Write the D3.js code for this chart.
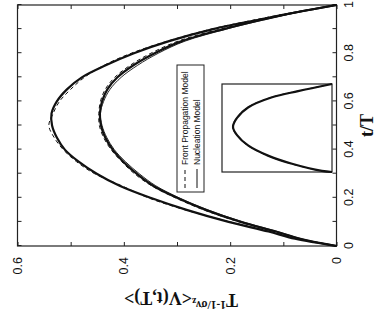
<!DOCTYPE html>
<html>
<head>
<meta charset="utf-8">
<script src="https://cdn.jsdelivr.net/npm/d3@7"></script>
<style>
  body { margin: 0; background: #fff; }
  svg { display: block; }
  .tick text { font-family: Arial, "Liberation Sans", sans-serif; }
</style>
</head>
<body>
<svg id="chart" width="379" height="321"></svg>
<script>
// Reduced time grid t/T shared by the main curves
const tGrid = [0, 0.03, 0.06, 0.1, 0.15, 0.2, 0.25, 0.3, 0.35, 0.4, 0.45, 0.5,
               0.55, 0.6, 0.65, 0.7, 0.75, 0.8, 0.85, 0.9, 0.94, 0.97, 1];

// Outer pair of curves
const outerNucleation = [0, 0.078, 0.128, 0.203, 0.282, 0.35, 0.408, 0.451, 0.485, 0.511, 0.526, 0.535,
                         0.536, 0.526, 0.507, 0.479, 0.434, 0.381, 0.315, 0.232, 0.145, 0.075, 0];
const outerFront =      [0, 0.074, 0.125, 0.200, 0.285, 0.354, 0.404, 0.455, 0.489, 0.514, 0.531, 0.541,
                         0.533, 0.521, 0.500, 0.474, 0.437, 0.386, 0.318, 0.236, 0.150, 0.079, 0];

// Inner group of curves
const innerNucleation = [0, 0.068, 0.114, 0.180, 0.246, 0.300, 0.345, 0.376, 0.401, 0.421, 0.435, 0.443,
                         0.445, 0.441, 0.431, 0.412, 0.382, 0.342, 0.291, 0.212, 0.137, 0.075, 0];
const innerNucleationB = [0, 0.066, 0.111, 0.176, 0.242, 0.296, 0.340, 0.371, 0.397, 0.418, 0.432, 0.441,
                          0.444, 0.438, 0.426, 0.405, 0.374, 0.335, 0.285, 0.207, 0.134, 0.072, 0];
const innerFront =      [0, 0.070, 0.116, 0.183, 0.250, 0.303, 0.348, 0.380, 0.404, 0.424, 0.438, 0.446,
                         0.447, 0.444, 0.435, 0.417, 0.388, 0.349, 0.298, 0.219, 0.142, 0.078, 0];

// Inset: rescaled curves collapsing onto one shape
const insetT = [0, 0.012, 0.093, 0.186, 0.302, 0.419, 0.512, 0.616, 0.733, 0.849, 0.919, 1];
const insetNucleation = [0, 0.055, 0.218, 0.349, 0.458, 0.518, 0.540, 0.518, 0.458, 0.327, 0.185, 0];
const insetFront =      [0, 0.058, 0.222, 0.352, 0.461, 0.521, 0.543, 0.521, 0.461, 0.330, 0.188, 0];

// Axis ticks and labels
const tTicks = [0, 0.1, 0.2, 0.3, 0.4, 0.5, 0.6, 0.7, 0.8, 0.9, 1];
const vTicks = [0, 0.1, 0.2, 0.3, 0.4, 0.5, 0.6];
const legendLabels = ["Front Propagation Model", "Nucleation Model"];

const svg = d3.select("#chart");
// The whole figure is laid out upright (321 wide, 379 tall) and turned a quarter-turn.
const g = svg.append("g").attr("transform", "translate(0,321) rotate(-90)");

const x = d3.scaleLinear().domain([0, 1]).range([75, 316]);
const y = d3.scaleLinear().domain([0, 0.6]).range([336.5, 17.5]);

const fmt = d => (Math.round(d * 10) % 2 === 0) ? (d === 0 ? "0" : (d === 1 ? "1" : d3.format(".1f")(d))) : "";

// Axes with inward ticks on all four sides
g.append("g").attr("transform", `translate(0,${y(0)})`)
  .call(d3.axisBottom(x).tickValues(tTicks).tickSizeInner(-4).tickSizeOuter(0).tickPadding(8).tickFormat(fmt));
g.append("g").attr("transform", `translate(${x(0)},0)`)
  .call(d3.axisLeft(y).tickValues(vTicks).tickSizeInner(-4).tickSizeOuter(0).tickPadding(11).tickFormat(fmt));
g.append("g").attr("transform", `translate(0,${y(0.6)})`)
  .call(d3.axisTop(x).tickValues(tTicks).tickSizeInner(-4).tickSizeOuter(0).tickFormat(""));
g.append("g").attr("transform", `translate(${x(1)},0)`)
  .call(d3.axisRight(y).tickValues(vTicks).tickSizeInner(-4).tickSizeOuter(0).tickFormat(""));
g.selectAll(".domain").remove();
g.selectAll(".tick line").attr("stroke", "#222");
g.selectAll(".tick text").attr("font-size", 12.5).attr("fill", "#111");

// Frame
g.append("rect")
  .attr("x", x(0)).attr("y", y(0.6))
  .attr("width", x(1) - x(0)).attr("height", y(0) - y(0.6))
  .attr("fill", "none").attr("stroke", "#222").attr("stroke-width", 1.2);

const line = (xs, ys) => d3.line().x(d => xs(d[0])).y(d => ys(d[1])).curve(d3.curveCatmullRom);
const pts = (ts, vs) => ts.map((t, i) => [t, vs[i]]);
const mainLine = line(x, y);

function draw(sel, data, width, dash) {
  sel.append("path").attr("d", data).attr("fill", "none")
    .attr("stroke", "#111").attr("stroke-width", width)
    .attr("stroke-dasharray", dash || null);
}

draw(g, mainLine(pts(tGrid, outerNucleation)), 2.2);
draw(g, mainLine(pts(tGrid, outerFront)), 1, "4,3");
draw(g, mainLine(pts(tGrid, innerNucleation)), 2.2);
draw(g, mainLine(pts(tGrid, innerNucleationB)), 0.9);
draw(g, mainLine(pts(tGrid, innerFront)), 1, "4,3");

// Inset panel
const xi = d3.scaleLinear().domain([0, 1]).range([149, 237]);
const yi = d3.scaleLinear().domain([0, 0.6]).range([332, 222]);
g.append("rect")
  .attr("x", xi(0)).attr("y", yi(0.6))
  .attr("width", xi(1) - xi(0)).attr("height", yi(0) - yi(0.6))
  .attr("fill", "#fff").attr("stroke", "#222").attr("stroke-width", 1.2);
const insetLine = line(xi, yi);
draw(g, insetLine(pts(insetT, insetNucleation)), 2.2);
draw(g, insetLine(pts(insetT, insetFront)), 1, "4,3");

// Legend
const lg = g.append("g");
lg.append("rect").attr("x", 129).attr("y", 177).attr("width", 127).attr("height", 27)
  .attr("fill", "#fff").attr("stroke", "#222").attr("stroke-width", 1);
legendLabels.forEach((label, i) => {
  const cy = 185 + i * 12;
  lg.append("line").attr("x1", 133).attr("x2", 152).attr("y1", cy).attr("y2", cy)
    .attr("stroke", "#111").attr("stroke-width", 1)
    .attr("stroke-dasharray", i === 0 ? "4,3" : null);
  lg.append("text").attr("x", 156).attr("y", cy).attr("dy", "0.35em")
    .attr("font-family", "Arial, 'Liberation Sans', sans-serif").attr("font-size", 8.5)
    .attr("fill", "#111").text(label);
});

// Axis titles
g.append("text")
  .attr("x", (x(0) + x(1)) / 2).attr("y", 373)
  .attr("text-anchor", "middle")
  .attr("font-family", "'Times New Roman', 'Liberation Serif', serif")
  .attr("font-weight", "bold").attr("font-size", 18).attr("fill", "#111")
  .text("t/T");

const yt = g.append("text")
  .attr("transform", `translate(27,${(y(0) + y(0.6)) / 2 + 4}) rotate(-90)`)
  .attr("text-anchor", "middle")
  .attr("font-family", "'Times New Roman', 'Liberation Serif', serif")
  .attr("font-weight", "bold").attr("font-size", 18).attr("fill", "#111");
yt.append("tspan").text("T");
yt.append("tspan").attr("font-size", 11.5).attr("dy", "-0.6em").text("1-1/σν");
yt.append("tspan").attr("font-size", 9.5).attr("dy", "0.3em").text("z");
yt.append("tspan").attr("dy", "0.35em").text("<V(t,T)>");
</script>
</body>
</html>
